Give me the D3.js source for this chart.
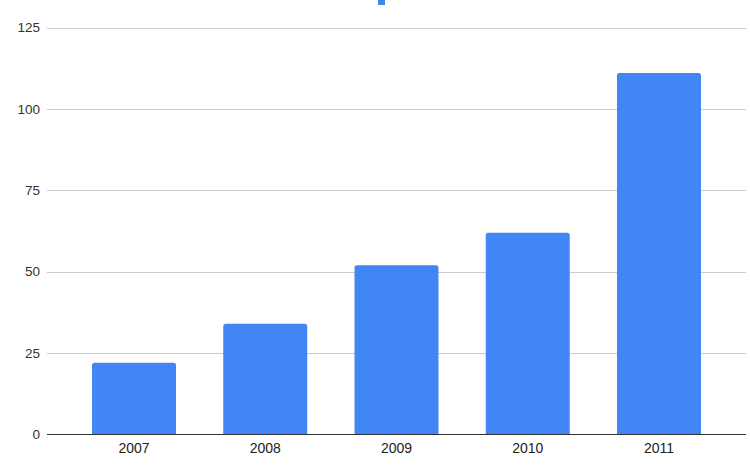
<!DOCTYPE html>
<html><head><meta charset="utf-8">
<script src="https://cdn.jsdelivr.net/npm/d3@7"></script>
<style>html,body{margin:0;padding:0;background:#fff;}svg{display:block;}</style>
</head><body>
<svg id="chart" width="750" height="472"></svg>
<script>
const categories = ["2007", "2008", "2009", "2010", "2011"];
const values = [22, 34, 52, 62, 111];
const yTicks = [0, 25, 50, 75, 100, 125];

const svg = d3.select("#chart");
const W = 750, H = 472;
const gridLeft = 47, gridRight = 746;
const y = d3.scaleLinear().domain([0, 125]).range([434.5, 27.5]);
const x = d3.scaleBand().domain(categories).range([68.4, 724.6]).paddingInner(0.36).paddingOuter(0.18);

svg.append("rect").attr("width", W).attr("height", H).attr("fill", "#fff");

// partial legend marker at top
svg.append("rect").attr("x", 378).attr("y", 0).attr("width", 7).attr("height", 5).attr("fill", "#4285f4");

// gridlines
svg.append("g").selectAll("line").data(yTicks.filter(d => d > 0)).join("line")
  .attr("x1", gridLeft).attr("x2", gridRight)
  .attr("y1", d => Math.round(y(d)) + 0.5).attr("y2", d => Math.round(y(d)) + 0.5)
  .attr("stroke", "#cccccc").attr("stroke-width", 1);

// y labels
svg.append("g").selectAll("text").data(yTicks).join("text")
  .attr("x", 40).attr("y", d => y(d)).attr("dy", "0.35em")
  .attr("text-anchor", "end")
  .attr("font-family", "Liberation Sans, Arial, sans-serif").attr("font-size", 13.5)
  .attr("fill", "#333").text(d => d);

// bars with rounded top corners
const r = 2.5;
svg.append("g").selectAll("path").data(categories.map((c, i) => ({c, v: values[i]}))).join("path")
  .attr("d", d => {
    const x0 = x(d.c), x1 = x0 + x.bandwidth(), yt = y(d.v), yb = y(0);
    return `M${x0},${yb}V${yt + r}Q${x0},${yt} ${x0 + r},${yt}H${x1 - r}Q${x1},${yt} ${x1},${yt + r}V${yb}Z`;
  })
  .attr("fill", "#4285f4");

// baseline
svg.append("line").attr("x1", gridLeft).attr("x2", gridRight)
  .attr("y1", y(0)).attr("y2", y(0)).attr("stroke", "#333").attr("stroke-width", 1.2);

// x labels
svg.append("g").selectAll("text").data(categories).join("text")
  .attr("x", d => x(d) + x.bandwidth() / 2).attr("y", 448).attr("dy", "0.35em")
  .attr("text-anchor", "middle")
  .attr("font-family", "Liberation Sans, Arial, sans-serif").attr("font-size", 14)
  .attr("fill", "#222").text(d => d);
</script>
</body></html>
